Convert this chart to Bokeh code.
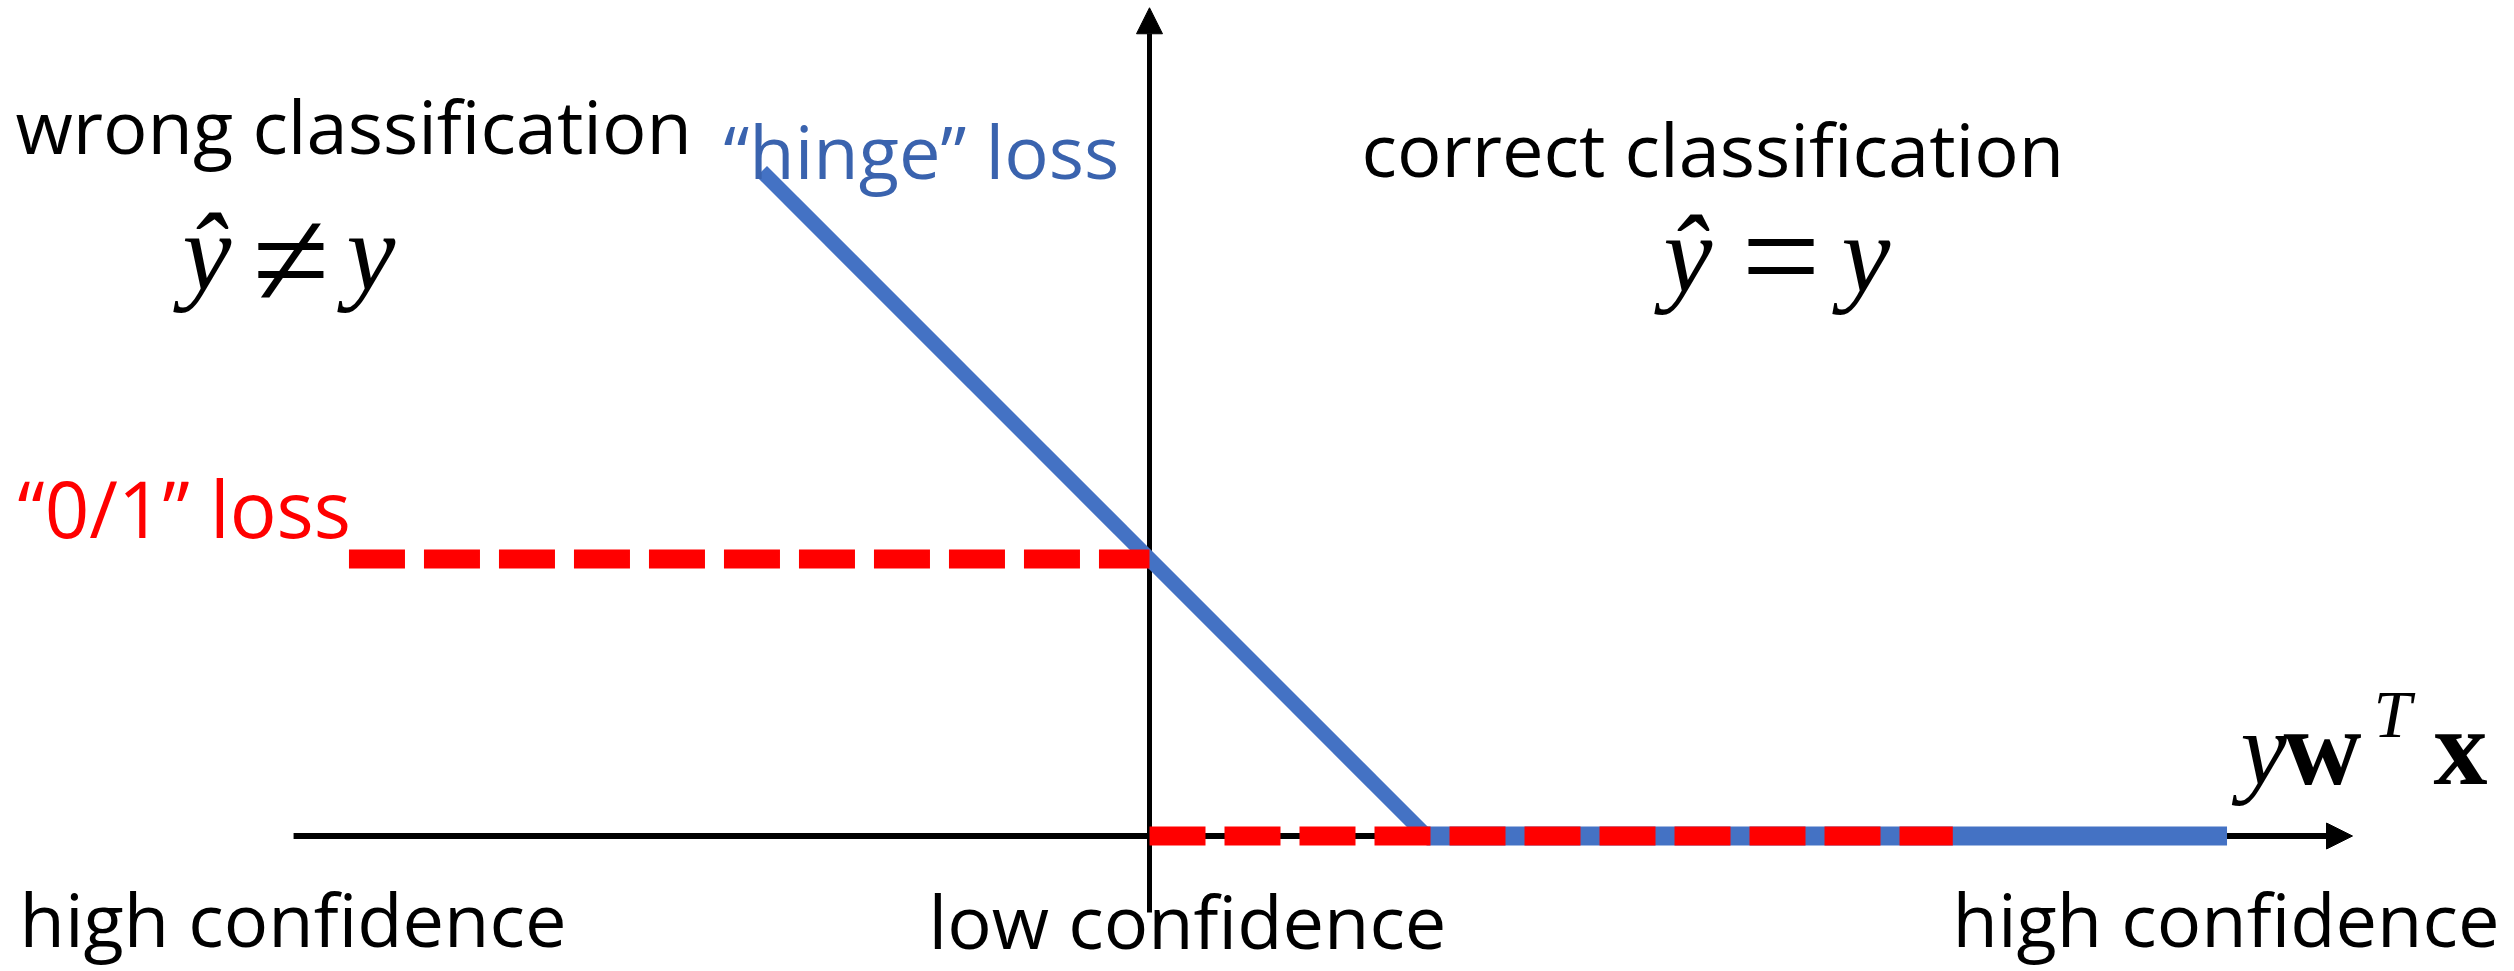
from bokeh.plotting import figure
from bokeh.models import Range1d, Label, Arrow, NormalHead
from bokeh.embed import file_html
from bokeh.resources import INLINE

# ---------------- data ----------------
# margin  y * w^T x   and   loss
hinge_margin = [-1.4, 1.0, 3.89]
hinge_loss = [2.4, 0.0, 0.0]
zero_one_wrong_margin = [-2.89, 0.0]
zero_one_wrong_loss = [1.0, 1.0]
zero_one_right_margin = [0.0, 2.9]
zero_one_right_loss = [0.0, 0.0]

region_labels = ["wrong classification", "correct classification"]
series_labels = ["\u201chinge\u201d loss", "\u201c0/1\u201d loss"]
confidence_labels = ["high confidence", "low confidence", "high confidence"]
math_wrong = ["\u0177", "\u2260", "y"]
math_right = ["\u0177", "=", "y"]
axis_title = ["y", "w", "T", "x"]

# ---------------- layout ----------------
W, H = 2514, 971
PX = 277.0           # pixels per data unit
ORIGIN_X = 1149.0    # canvas px of margin 0
ORIGIN_Y = 835.5     # canvas px (from top) of loss 0
x_start = -ORIGIN_X / PX
x_end = x_start + W / PX
y_end = ORIGIN_Y / PX
y_start = (ORIGIN_Y - H) / PX

BLUE = "#4472C4"
BLUE_TEXT = "#3A63AE"
RED = "#FF0000"

p = figure(width=W, height=H, x_range=Range1d(x_start, x_end),
           y_range=Range1d(y_start, y_end), output_backend="svg",
           toolbar_location=None, min_border=0,
           x_axis_location=None, y_axis_location=None)
p.grid.visible = False
p.outline_line_color = None
p.background_fill_color = "white"
p.border_fill_color = "white"

# axes with arrow heads (drawn beneath the curves)
p.add_layout(Arrow(end=NormalHead(size=26, fill_color="black", line_color="black", line_width=1),
                   x_start=-3.09, y_start=0.0, x_end=4.343, y_end=0.0,
                   line_color="black", line_width=6, level="underlay"))
p.add_layout(Arrow(end=NormalHead(size=26, fill_color="black", line_color="black", line_width=1),
                   x_start=0.0, y_start=-0.276, x_end=0.0, y_end=2.99,
                   line_color="black", line_width=5, level="underlay"))

# hinge loss
p.line(hinge_margin[:2], hinge_loss[:2], line_color=BLUE, line_width=15)
p.line(hinge_margin[1:], hinge_loss[1:], line_color=BLUE, line_width=19)

# 0/1 loss
p.line(zero_one_wrong_margin, zero_one_wrong_loss, line_color=RED, line_width=19, line_dash="56 19")
p.line(zero_one_right_margin, zero_one_right_loss, line_color=RED, line_width=19, line_dash="56 19")

DESCENT = {"Open Sans": 0.293, "Liberation Serif": 0.216}


def lab(text, X, Y, size, color="black", font="Open Sans", style="normal"):
    # X, Y are page pixel coordinates (left edge, baseline)
    shift = DESCENT[font] * size
    p.add_layout(Label(x=X, y=H - Y + shift, x_units="screen", y_units="screen",
                       text=text, text_font=font, text_font_size=f"{size}px",
                       text_font_style=style, text_color=color,
                       text_baseline="alphabetic", text_align="left"))


SANS = 74
lab(region_labels[0], 15, 147, SANS)
lab(region_labels[1], 1361, 170, SANS)
lab(series_labels[0], 723, 172, SANS, BLUE_TEXT)
lab(series_labels[1], 17, 530, 78, RED)
lab(confidence_labels[0], 19, 940, SANS)
lab(confidence_labels[1], 928, 942, SANS)
lab(confidence_labels[2], 1952, 940, SANS)

SERIF = "Liberation Serif"
lab(math_wrong[0], 182, 276, 110, font=SERIF, style="italic")
lab(math_wrong[1], 252, 289, 140, font=SERIF)
lab(math_wrong[2], 346, 276, 110, font=SERIF, style="italic")

lab(math_right[0], 1663, 278, 110, font=SERIF, style="italic")
lab(math_right[1], 1741, 285, 140, font=SERIF)
lab(math_right[2], 1841, 278, 110, font=SERIF, style="italic")

lab(axis_title[0], 2240, 770, 104, font=SERIF, style="italic")
lab(axis_title[1], 2283, 770, 108, font=SERIF, style="bold")
lab(axis_title[2], 2373, 728, 68, font=SERIF, style="italic")
lab(axis_title[3], 2433, 770, 108, font=SERIF, style="bold")

open("out.html", "w").write(file_html(p, INLINE))
